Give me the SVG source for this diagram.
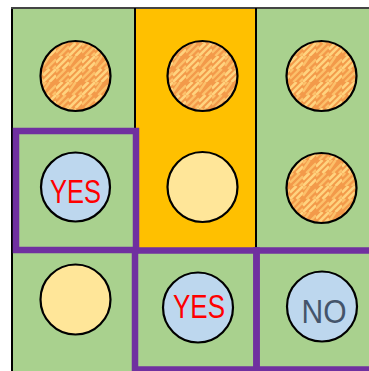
<svg xmlns="http://www.w3.org/2000/svg" width="369" height="371" viewBox="0 0 369 371">
<defs>
<pattern id="tile" width="26" height="26" patternUnits="userSpaceOnUse" x="4" y="4">
<rect width="26" height="26" fill="#F39A4A"/>
<g stroke="#FFD37F" stroke-width="2.6">
<path d="M0 6.5L6.5 0M0 13L13 0M6.5 13L13 6.5"/>
<path d="M13 19.5L19.5 13M13 26L26 13M19.5 26L26 19.5"/>
</g>
<g stroke="#FCC06A" stroke-width="2.4">
<path d="M13 3.25L16.25 0M13 9.75L19.75 0M16.25 13L26 3.25M22.75 13L26 9.75"/>
<path d="M0 16.25L3.25 13M0 22.75L9.75 13M3.25 26L13 16.25M9.75 26L13 22.75"/>
</g>
</pattern>
<style>
.pat{fill:url(#tile);stroke:#000;stroke-width:2.2}
.yel{fill:#FFE699;stroke:#000;stroke-width:2.2}
.blu{fill:#BDD7EE;stroke:#000;stroke-width:2.2}
.grid{stroke:#000;stroke-width:2;fill:none}
.sel{fill:none;stroke:#7030A0;stroke-width:6.5}
.t{font-family:"Liberation Sans",Arial,sans-serif;font-size:32.5px;text-anchor:middle}
</style>
</defs>
<g id="background">
<rect x="12" y="8" width="357" height="363" fill="#A9D18E"/>
<rect x="135" y="8" width="121" height="242" fill="#FFC000"/>
</g>
<g id="gridlines">
<line class="grid" x1="12" y1="8" x2="12" y2="371"/>
<line x1="11" y1="8" x2="369" y2="8" stroke="#444" stroke-width="2"/>
<line class="grid" x1="135" y1="8" x2="135" y2="250"/>
<line class="grid" x1="256" y1="8" x2="256" y2="250"/>
</g>
<g id="r1c1"><circle class="pat" cx="75.5" cy="76" r="35"/></g>
<g id="r1c2"><circle class="pat" cx="202.5" cy="76" r="35"/></g>
<g id="r1c3"><circle class="pat" cx="321.5" cy="76" r="35"/></g>
<g id="r2c1"><circle class="blu" cx="75.5" cy="187" r="34.5"/><text class="t" x="75.5" y="203" fill="#FF0000" textLength="51" lengthAdjust="spacingAndGlyphs">YES</text></g>
<g id="r2c2"><circle class="yel" cx="202.5" cy="187" r="35"/></g>
<g id="r2c3"><circle class="pat" cx="321.5" cy="188" r="35"/></g>
<g id="r3c1"><circle class="yel" cx="75.5" cy="299.5" r="35"/></g>
<g id="r3c2"><circle class="blu" cx="198" cy="307.5" r="35"/><text class="t" x="199" y="318" fill="#FF0000" textLength="52" lengthAdjust="spacingAndGlyphs">YES</text></g>
<g id="r3c3"><circle class="blu" cx="322" cy="306.5" r="35"/><text class="t" x="324" y="322.5" fill="#44546A" textLength="45" lengthAdjust="spacingAndGlyphs">NO</text></g>
<g id="selections">
<rect class="sel" x="16" y="131" width="120" height="119"/>
<rect class="sel" x="135" y="250.5" width="121.5" height="119"/>
<rect class="sel" x="256.5" y="250.5" width="120" height="119"/>
</g>
</svg>
